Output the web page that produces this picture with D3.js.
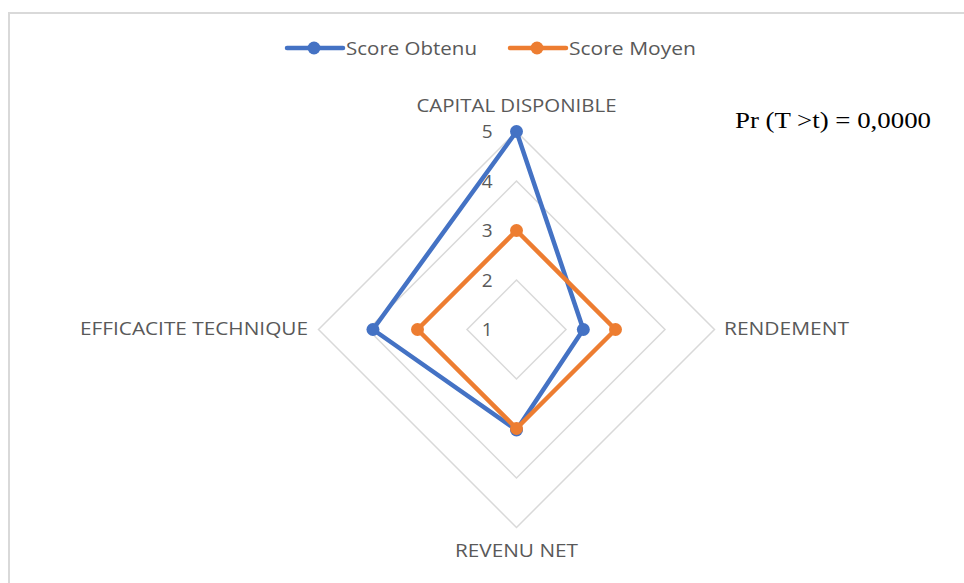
<!DOCTYPE html>
<html>
<head>
<meta charset="utf-8">
<script src="https://cdn.jsdelivr.net/npm/d3@7"></script>
<style>
  body { margin: 0; background: #fff; }
  text { font-family: "Open Sans", "Noto Sans", sans-serif; }
</style>
</head>
<body>
<div id="chart"></div>
<script>
const axes = ["CAPITAL DISPONIBLE", "RENDEMENT", "REVENU NET", "EFFICACITE TECHNIQUE"];
const scoreObtenu = [5, 2.35, 3.03, 3.9];
const scoreMoyen = [3, 3, 3, 3];
const tickValues = [1, 2, 3, 4, 5];
const seriesNames = ["Score Obtenu", "Score Moyen"];
const seriesColors = ["#4472C4", "#ED7D31"];

const width = 964, height = 583;
const cx = 516.5, cy = 329.5, outerRadius = 198;

const svg = d3.select("#chart").append("svg")
  .attr("width", width)
  .attr("height", height);

// chart frame
svg.append("path")
  .attr("d", `M9,${height + 5}V13H${width + 5}`)
  .attr("fill", "none")
  .attr("stroke", "#d9d9d9")
  .attr("stroke-width", 2);

const r = d3.scaleLinear().domain([1, 5]).range([0, outerRadius]);
const angle = i => (Math.PI * 2 / axes.length) * i - Math.PI / 2;
const pt = (v, i) => [cx + r(v) * Math.cos(angle(i)), cy + r(v) * Math.sin(angle(i))];

// grid diamonds
const grid = svg.append("g");
tickValues.slice(1).forEach(t => {
  grid.append("path")
    .attr("d", d3.line().curve(d3.curveLinearClosed)(axes.map((a, i) => pt(t, i))))
    .attr("fill", "none")
    .attr("stroke", "#d9d9d9")
    .attr("stroke-width", 1.5);
});

// tick labels
svg.append("g").selectAll("text")
  .data(tickValues)
  .join("text")
  .attr("x", cx - 24)
  .attr("y", d => cy - r(d))
  .attr("dy", "0.35em")
  .attr("text-anchor", "end")
  .attr("font-size", "19px")
  .attr("fill", "#595959")
  .text(d => d);

// axis labels
const labelPos = [
  { x: cx, y: 106, anchor: "middle", w: 200 },
  { x: 724, y: 329, anchor: "start", w: 125 },
  { x: cx, y: 551, anchor: "middle", w: 123 },
  { x: 308, y: 329, anchor: "end", w: 228 }
];
svg.append("g").selectAll("text")
  .data(axes)
  .join("text")
  .attr("x", (d, i) => labelPos[i].x)
  .attr("y", (d, i) => labelPos[i].y)
  .attr("dy", "0.35em")
  .attr("text-anchor", (d, i) => labelPos[i].anchor)
  .attr("font-size", "18.5px")
  .attr("textLength", (d, i) => labelPos[i].w)
  .attr("lengthAdjust", "spacingAndGlyphs")
  .attr("fill", "#595959")
  .text(d => d);

// series
const series = [scoreObtenu, scoreMoyen];
series.forEach((values, s) => {
  const g = svg.append("g");
  g.append("path")
    .attr("d", d3.line().curve(d3.curveLinearClosed)(values.map((v, i) => pt(v, i))))
    .attr("fill", "none")
    .attr("stroke", seriesColors[s])
    .attr("stroke-width", 4.5)
    .attr("stroke-linejoin", "round");
  g.selectAll("circle")
    .data(values)
    .join("circle")
    .attr("cx", (v, i) => pt(v, i)[0])
    .attr("cy", (v, i) => pt(v, i)[1])
    .attr("r", 6.5)
    .attr("fill", seriesColors[s]);
});

// legend
const legendX = [287, 510];
const legendW = [131, 127];
const legend = svg.append("g");
seriesNames.forEach((name, s) => {
  const g = legend.append("g").attr("transform", `translate(${legendX[s]},48)`);
  g.append("line")
    .attr("x1", 0).attr("x2", 56)
    .attr("stroke", seriesColors[s])
    .attr("stroke-width", 4.5)
    .attr("stroke-linecap", "round");
  g.append("circle").attr("cx", 27).attr("r", 6.5).attr("fill", seriesColors[s]);
  g.append("text")
    .attr("x", 59)
    .attr("dy", "0.35em")
    .attr("font-size", "19px")
    .attr("textLength", legendW[s])
    .attr("lengthAdjust", "spacingAndGlyphs")
    .attr("fill", "#595959")
    .text(name);
});

// annotation
svg.append("text")
  .attr("x", 735)
  .attr("y", 128)
  .attr("font-size", "23px")
  .attr("textLength", 196)
  .attr("lengthAdjust", "spacingAndGlyphs")
  .attr("fill", "#000")
  .style("font-family", "'Liberation Serif', 'Times New Roman', serif")
  .text("Pr (T >t) = 0,0000");
</script>
</body>
</html>
